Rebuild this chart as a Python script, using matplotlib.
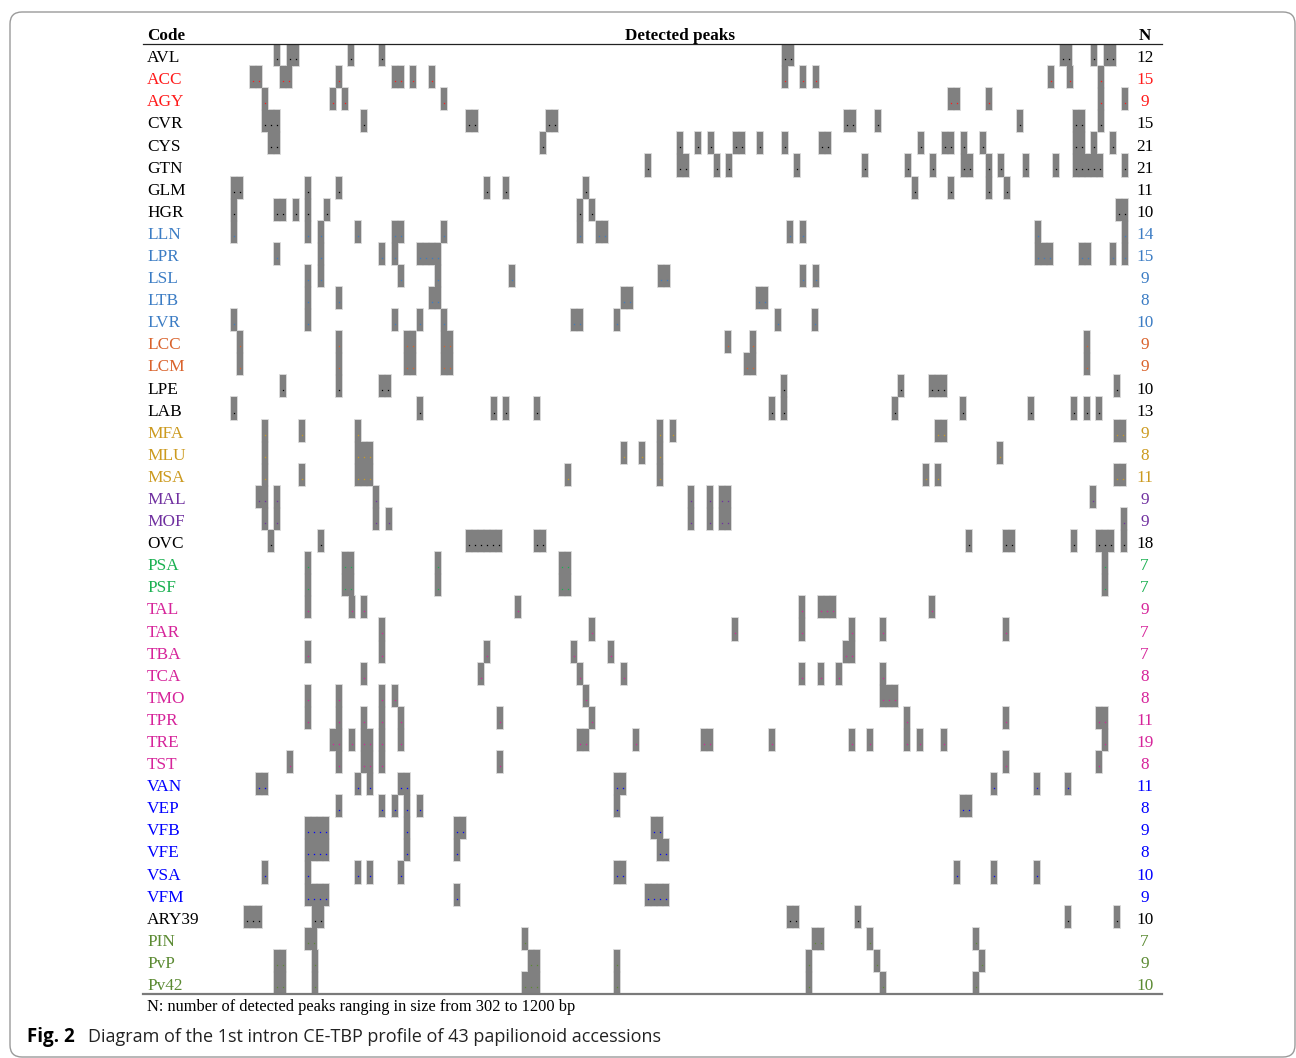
import matplotlib
matplotlib.use("Agg")
import matplotlib.pyplot as plt
import matplotlib.transforms as mtransforms
from matplotlib.patches import FancyBboxPatch
from matplotlib.lines import Line2D

# accession codes, top to bottom
codes = ["AVL", "ACC", "AGY", "CVR", "CYS", "GTN", "GLM", "HGR", "LLN", "LPR",
         "LSL", "LTB", "LVR", "LCC", "LCM", "LPE", "LAB", "MFA", "MLU", "MSA",
         "MAL", "MOF", "OVC", "PSA", "PSF", "TAL", "TAR", "TBA", "TCA", "TMO",
         "TPR", "TRE", "TST", "VAN", "VEP", "VFB", "VFE", "VSA", "VFM", "ARY39",
         "PIN", "PvP", "Pv42"]

# number of detected peaks per accession
n_peaks = [12, 15, 9, 15, 21, 21, 11, 10, 14, 15, 9, 8, 10, 9, 9, 10, 13, 9, 8, 11,
           9, 9, 18, 7, 7, 9, 7, 7, 8, 8, 11, 19, 8, 11, 8, 9, 8, 10, 9, 10,
           7, 9, 10]

# colour groups of the codes
group = ["k", "r", "r", "k", "k", "k", "k", "k", "lb", "lb",
         "lb", "lb", "lb", "or", "or", "k", "k", "gd", "gd", "gd",
         "pu", "pu", "k", "gr", "gr", "mg", "mg", "mg", "mg", "mg",
         "mg", "mg", "mg", "bl", "bl", "bl", "bl", "bl", "bl", "k",
         "ol", "ol", "ol"]
palette = {"k": "#000000", "r": "#ff1a1a", "lb": "#3b7cc4", "or": "#d9622b",
           "gd": "#cc9a1f", "pu": "#7030a0", "gr": "#19b050", "mg": "#d6249a",
           "bl": "#0000ff", "ol": "#5b8a32"}

# peak sizes (bp), one list per accession
peaks = [
    [345, 358, 364, 419, 450, 853, 859, 1131, 1137, 1162, 1175, 1181],
    [321, 327, 351, 357, 407, 463, 469, 481, 500, 853, 871, 884, 1119, 1138, 1169],
    [333, 401, 413, 512, 1019, 1025, 1057, 1169, 1193],
    [333, 339, 345, 432, 537, 543, 617, 623, 915, 921, 946, 1088, 1144, 1150, 1169],
    [339, 345, 611, 748, 766, 779, 804, 810, 828, 853, 890, 896, 989, 1013, 1019,
     1032, 1051, 1144, 1150, 1162, 1181],
    [716, 748, 754, 785, 797, 865, 933, 976, 1001, 1032, 1038, 1057, 1069, 1094,
     1124, 1144, 1150, 1156, 1162, 1168, 1193],
    [302, 308, 376, 407, 555, 574, 654, 983, 1019, 1057, 1075],
    [302, 345, 351, 364, 376, 395, 648, 660, 1187, 1193],
    [302, 376, 389, 426, 463, 469, 512, 648, 667, 673, 858, 871, 1106, 1193],
    [345, 389, 450, 463, 488, 494, 500, 506, 1106, 1112, 1118, 1150, 1156, 1181, 1193],
    [376, 389, 469, 506, 580, 729, 735, 871, 884],
    [376, 407, 500, 506, 692, 698, 827, 833],
    [302, 376, 463, 488, 512, 642, 648, 685, 846, 883],
    [308, 407, 475, 481, 512, 518, 796, 821, 1155],
    [308, 407, 475, 481, 512, 518, 815, 821, 1155],
    [351, 407, 450, 456, 852, 969, 1000, 1006, 1012, 1185],
    [302, 488, 562, 574, 605, 840, 852, 963, 1031, 1099, 1142, 1155, 1167],
    [333, 370, 426, 728, 741, 1006, 1012, 1185, 1191],
    [333, 426, 432, 438, 692, 710, 728, 1068],
    [333, 370, 426, 432, 438, 636, 728, 994, 1006, 1185, 1191],
    [327, 333, 345, 444, 759, 778, 790, 796, 1161],
    [333, 345, 444, 457, 759, 778, 790, 796, 1192],
    [339, 389, 537, 543, 549, 555, 561, 567, 605, 611, 1037, 1074, 1080, 1142,
     1167, 1173, 1179, 1192],
    [376, 413, 419, 506, 630, 636, 1173],
    [376, 413, 419, 506, 630, 636, 1173],
    [376, 420, 432, 586, 870, 889, 895, 901, 1000],
    [450, 660, 803, 870, 920, 951, 1074],
    [376, 450, 555, 642, 679, 914, 920],
    [432, 549, 648, 692, 870, 889, 907, 951],
    [376, 407, 450, 463, 654, 951, 957, 963],
    [376, 407, 432, 450, 469, 568, 660, 975, 1074, 1167, 1173],
    [401, 407, 420, 432, 438, 450, 469, 648, 654, 704, 772, 778, 840, 920, 938,
     975, 988, 1012, 1173],
    [358, 407, 432, 438, 450, 568, 1074, 1167],
    [327, 333, 426, 438, 469, 475, 685, 691, 1062, 1105, 1136],
    [407, 450, 463, 475, 488, 685, 1031, 1037],
    [376, 382, 388, 394, 475, 525, 531, 722, 728],
    [376, 382, 388, 394, 475, 525, 728, 734],
    [333, 376, 426, 438, 469, 685, 691, 1025, 1062, 1105],
    [376, 382, 388, 394, 525, 716, 722, 728, 734],
    [315, 321, 327, 383, 389, 858, 864, 926, 1136, 1185],
    [376, 382, 593, 883, 889, 938, 1044],
    [345, 351, 383, 599, 605, 685, 877, 945, 1050],
    [345, 351, 383, 593, 599, 605, 685, 877, 951, 1044],
]

W, H = 1296, 1058
plt.rcParams["font.family"] = ["Liberation Serif", "DejaVu Serif"]
fig = plt.figure(figsize=(W / 100, H / 100), dpi=100)

ax = fig.add_axes([143 / W, 1 - 994 / H, 1019 / W, 950 / H])
ax.set_xlim(214.3, 1233.3)
ax.set_ylim(len(codes), 0)
ax.axis("off")

bw = 6.2
for i, row in enumerate(peaks):
    # light halo first, then the grey band on top so joined bands merge
    ax.bar(row, 1, width=bw, bottom=i, align="edge", color="#cfcfcf",
           edgecolor="#cfcfcf", linewidth=1.2, zorder=1)
for i, row in enumerate(peaks):
    col = palette[group[i]]
    ax.bar(row, 1, width=bw, bottom=i, align="edge", color="#808080",
           linewidth=0, zorder=2)
    ax.plot([p + bw / 2 for p in row], [i + 0.68] * len(row), "s", ms=0.9,
            color=col, mew=0, zorder=3)

trans = mtransforms.blended_transform_factory(ax.transAxes, ax.transData)
for i, (c, n) in enumerate(zip(codes, n_peaks)):
    col = palette[group[i]]
    ax.text(0.004, i + 0.64, c, transform=trans, ha="left", va="center",
            fontsize=12.4, color=col)
    ax.text(0.983, i + 0.64, str(n), transform=trans, ha="center", va="center",
            fontsize=12.4, color=col)

# header and rules
fig.text(147 / W, 1 - 40 / H, "Code", fontsize=12.3, fontweight="bold", va="baseline")
fig.text(680 / W, 1 - 40 / H, "Detected peaks", fontsize=12.3, fontweight="bold",
         va="baseline", ha="center")
fig.text(1145 / W, 1 - 40 / H, "N", fontsize=12.3, fontweight="bold",
         va="baseline", ha="center")
fig.add_artist(Line2D([143 / W, 1162 / W], [1 - 44 / H, 1 - 44 / H],
                      color="#222222", lw=0.9))
fig.add_artist(Line2D([143 / W, 1162 / W], [1 - 994 / H, 1 - 994 / H],
                      color="#7a7a7a", lw=1.6))

fig.text(147 / W, 1 - 1011 / H,
         "N: number of detected peaks ranging in size from 302 to 1200 bp",
         fontsize=11.8, va="baseline")

fig.text(27 / W, 1 - 1042 / H, "Fig. 2", fontsize=13.5, fontweight="bold",
         family=["Open Sans", "DejaVu Sans"], va="baseline")
fig.text(88 / W, 1 - 1042 / H,
         "Diagram of the 1st intron CE-TBP profile of 43 papilionoid accessions",
         fontsize=13, family=["Open Sans", "DejaVu Sans"], va="baseline",
         color="#222222")

frame = FancyBboxPatch((10, 1), 1285, 1045, boxstyle="round,pad=0,rounding_size=12",
                       transform=mtransforms.IdentityTransform(), fill=False,
                       ec="#9a9a9a", lw=1)
fig.add_artist(frame)

fig.savefig("out.png", dpi=100)
